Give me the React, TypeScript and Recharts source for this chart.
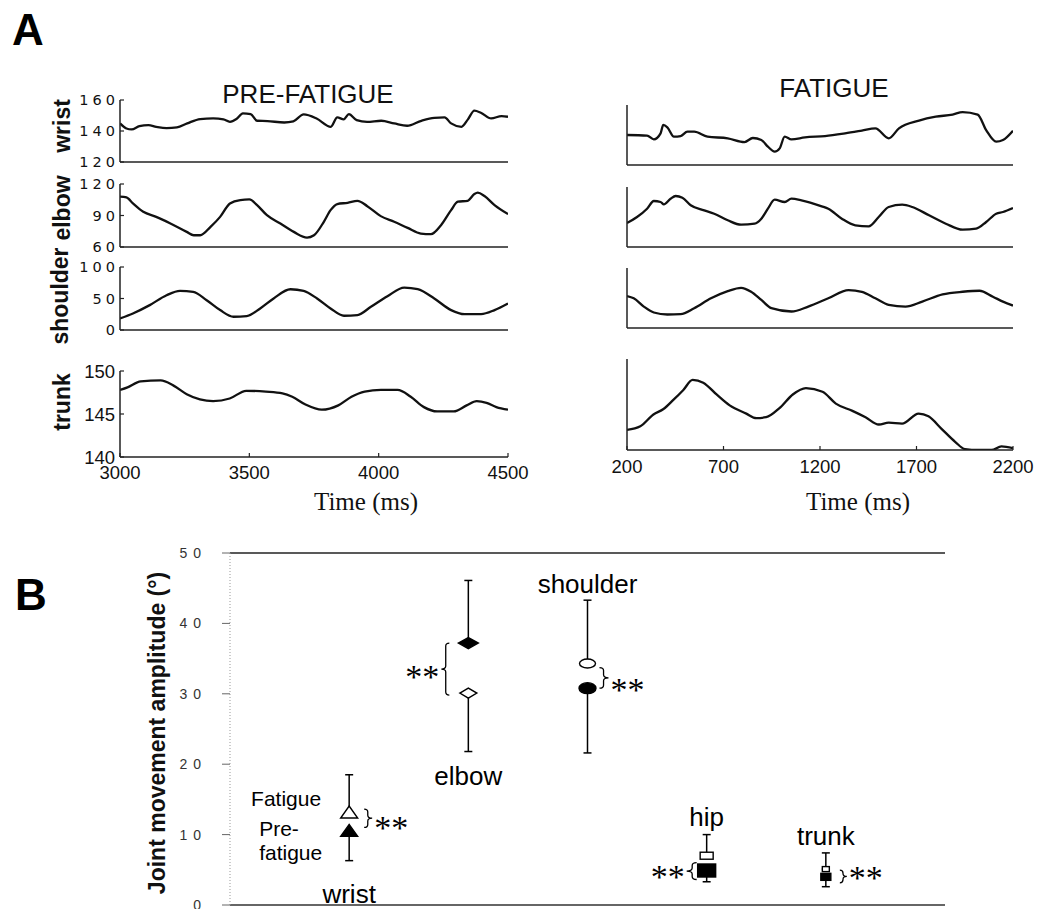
import React from 'react';
import {
  LineChart,
  Line,
  XAxis,
  YAxis,
  ScatterChart,
  Scatter,
  ErrorBar,
  ReferenceArea,
  ReferenceLine,
} from 'recharts';

type Pt = [number, number];

// ---------------- Panel A data (time in ms, joint angle in degrees) ----------------
const preTicksX = [3000, 3500, 4000, 4500];
const fatTicksX = [200, 700, 1200, 1700, 2200];
const wristTicks = [120, 140, 160];
const elbowTicks = [60, 90, 120];
const shoulderTicks = [0, 50, 100];
const trunkTicks = [140, 145, 150];

const preWrist: Pt[] = [
  [3000, 144.9], [3025, 141.6], [3045, 141.0], [3075, 143.1], [3110, 143.8], [3140, 142.7],
  [3180, 141.8], [3220, 142.3], [3260, 144.9], [3310, 147.7], [3360, 148.1], [3400, 147.5],
  [3425, 145.9], [3450, 147.7], [3475, 151.4], [3505, 150.9], [3530, 146.6], [3570, 146.4],
  [3635, 145.5], [3670, 146.2], [3710, 150.7], [3760, 148.1], [3815, 142.7], [3840, 148.8],
  [3865, 147.5], [3885, 150.9], [3915, 147.0], [3955, 145.9], [4010, 146.6], [4060, 144.9],
  [4110, 143.4], [4165, 146.6], [4215, 148.5], [4255, 148.8], [4280, 144.9], [4320, 142.7],
  [4345, 147.5], [4370, 153.1], [4395, 151.8], [4435, 148.1], [4475, 149.6], [4500, 149.2],
];
const preElbow: Pt[] = [
  [3000, 107.9], [3025, 107.2], [3050, 101.5], [3090, 93.5], [3140, 88.7], [3195, 82.4],
  [3258, 74.4], [3285, 71.2], [3310, 71.2], [3350, 79.2], [3387, 88.7], [3425, 101.5],
  [3465, 104.7], [3500, 105.3], [3530, 99.9], [3568, 90.3], [3620, 82.4], [3672, 74.4],
  [3723, 69.0], [3750, 71.2], [3788, 84.0], [3814, 95.1], [3840, 100.9], [3880, 102.1],
  [3918, 104.0], [3956, 98.9], [4008, 89.4], [4060, 84.0], [4112, 78.2], [4163, 72.8],
  [4202, 72.2], [4241, 80.8], [4280, 95.1], [4306, 103.1], [4344, 104.0], [4370, 110.4],
  [4383, 111.7], [4409, 108.5], [4448, 99.9], [4500, 91.3],
];
const preShoulder: Pt[] = [
  [3000, 18.4], [3050, 26.3], [3115, 39.5], [3180, 55.2], [3232, 62.1], [3283, 60.5],
  [3335, 47.3], [3387, 31.6], [3439, 21.0], [3490, 22.1], [3542, 34.2], [3594, 50.0],
  [3659, 64.7], [3710, 62.1], [3762, 50.0], [3814, 34.2], [3866, 22.6], [3918, 23.7],
  [3970, 36.8], [4034, 53.7], [4099, 67.3], [4151, 64.7], [4215, 50.0], [4280, 31.6],
  [4332, 25.2], [4396, 25.2], [4448, 31.6], [4500, 42.1],
];
const preTrunk: Pt[] = [
  [3000, 147.8], [3029, 148.1], [3080, 148.8], [3157, 148.9], [3207, 148.3], [3258, 147.3],
  [3309, 146.7], [3360, 146.5], [3424, 146.8], [3488, 147.7], [3564, 147.6], [3628, 147.4],
  [3666, 147.0], [3717, 146.1], [3780, 145.5], [3844, 146.0], [3895, 147.0], [3946, 147.6],
  [4009, 147.8], [4073, 147.8], [4124, 147.0], [4175, 145.8], [4226, 145.3], [4290, 145.3],
  [4340, 146.0], [4379, 146.5], [4417, 146.3], [4455, 145.8], [4500, 145.5],
];

const fatWrist: Pt[] = [
  [200, 140.0], [304, 139.6], [339, 137.1], [374, 141.1], [388, 146.7], [409, 145.1],
  [443, 138.9], [478, 139.3], [513, 142.2], [548, 142.2], [617, 138.9], [722, 137.8],
  [809, 135.3], [852, 138.0], [896, 136.7], [930, 132.2], [965, 128.9], [991, 131.1],
  [1017, 138.9], [1052, 137.1], [1122, 138.4], [1226, 139.3], [1330, 141.1], [1417, 142.9],
  [1487, 144.4], [1556, 137.8], [1609, 144.4], [1713, 149.6], [1800, 152.2], [1887, 153.6],
  [1939, 155.3], [2017, 153.6], [2061, 143.3], [2113, 135.6], [2148, 136.7], [2200, 142.9],
];
const fatElbow: Pt[] = [
  [200, 84.0], [252, 90.0], [304, 98.3], [339, 106.0], [374, 105.0], [391, 102.7],
  [426, 108.3], [452, 111.0], [487, 109.3], [530, 101.7], [600, 96.7], [652, 93.3],
  [722, 86.7], [791, 82.3], [861, 83.3], [896, 88.3], [930, 98.3], [965, 107.3],
  [1017, 105.0], [1052, 108.3], [1104, 106.7], [1209, 100.7], [1243, 98.3], [1313, 88.3],
  [1383, 81.7], [1452, 80.7], [1504, 90.0], [1556, 100.0], [1626, 102.3], [1678, 100.0],
  [1765, 91.7], [1852, 83.3], [1939, 77.3], [2009, 78.3], [2061, 85.0], [2113, 93.3],
  [2148, 95.0], [2200, 99.0],
];
const fatShoulder: Pt[] = [
  [200, 53.3], [235, 49.5], [287, 35.7], [339, 25.8], [409, 22.5], [478, 23.1],
  [548, 33.0], [635, 49.5], [722, 61.5], [791, 67.0], [843, 60.4], [896, 46.7],
  [948, 33.0], [1052, 27.5], [1139, 35.7], [1243, 49.5], [1348, 63.2], [1417, 60.4],
  [1487, 49.5], [1556, 38.5], [1643, 35.7], [1730, 44.0], [1835, 56.0], [1939, 60.4],
  [2026, 62.1], [2096, 52.2], [2148, 44.0], [2200, 37.4],
];
const fatTrunk: Pt[] = [
  [200, 142.2], [269, 142.6], [337, 143.9], [389, 144.5], [440, 145.5], [492, 146.6],
  [540, 147.7], [595, 147.4], [664, 146.1], [732, 144.9], [818, 144.0], [870, 143.5],
  [921, 143.6], [990, 144.6], [1059, 146.1], [1127, 146.8], [1213, 146.4], [1282, 145.1],
  [1368, 144.3], [1436, 143.6], [1505, 142.8], [1556, 143.0], [1625, 142.9], [1711, 144.0],
  [1762, 143.7], [1831, 142.3], [1900, 140.9], [1951, 140.1], [2020, 140.0], [2089, 140.0],
  [2140, 140.4], [2200, 140.2],
];

// ---------------- Panel B data (joint movement amplitude, degrees) ----------------
const joints = ['wrist', 'elbow', 'shoulder', 'hip', 'trunk'];
const preFatigue = [10.6, 37.2, 30.8, 4.9, 4.0];
const fatigue = [13.2, 30.1, 34.3, 7.0, 5.1];
const preFatigueSD = [4.3, 8.9, 9.2, 1.6, 1.4];
const fatigueSD = [5.3, 8.3, 9.0, 3.0, 2.3];
const ampTicks = [0, 10, 20, 30, 40, 50];

// ---------------- styles ----------------
const SANS = '"Liberation Sans", Arial, sans-serif';
const SERIF = '"Liberation Serif", "Times New Roman", serif';
const INK = '#111';

interface PanelProps {
  data: Pt[];
  domainX: [number, number];
  ticksX: number[];
  domainY: [number, number];
  ticksY: number[];
  chartLeft: number;
  plotX: number;
  plotY: number;
  plotW: number;
  plotH: number;
  rightM: number;
  xLabels?: boolean;
  yLabels?: 'small' | 'large' | 'none';
  xTickMargin?: number;
}

function TracePanel(p: PanelProps) {
  const M = 10;
  const yw = p.plotX - p.chartLeft - M;
  const xh = p.xLabels ? 40 : 2;
  const width = M + yw + p.plotW + p.rightM;
  const height = M + p.plotH + xh + M;
  const rows = p.data.map(([t, v]) => ({ t, v }));
  const yTick =
    p.yLabels === 'small'
      ? { fill: INK, fontSize: 14.5, fontFamily: '"DejaVu Sans", sans-serif', style: { letterSpacing: '4px' } }
      : p.yLabels === 'large'
      ? { fill: INK, fontSize: 18.5, fontFamily: SANS }
      : false;
  return (
    <div style={{ position: 'absolute', left: p.chartLeft, top: p.plotY - M, width, height }}>
      <LineChart width={width} height={height} data={rows} margin={{ top: M, right: p.rightM, bottom: M, left: M }}>
        <XAxis
          dataKey="t"
          type="number"
          domain={p.domainX}
          ticks={p.ticksX}
          allowDataOverflow
          interval={0}
          height={xh}
          axisLine={{ stroke: '#222', strokeWidth: 1.5 }}
          tickLine={{ stroke: '#222', strokeWidth: 1.2 }}
          tickSize={-4}
          tickMargin={p.xTickMargin ?? 13}
          tick={p.xLabels ? { fill: INK, fontSize: 18.5, fontFamily: SANS } : false}
        />
        <YAxis
          type="number"
          domain={p.domainY}
          ticks={p.ticksY}
          allowDataOverflow
          interval={0}
          width={yw}
          axisLine={{ stroke: '#222', strokeWidth: 1.5 }}
          tickLine={{ stroke: '#222', strokeWidth: 1.2 }}
          tickSize={-4}
          tickMargin={p.yLabels === 'small' ? 5 : 9}
          tick={yTick as any}
        />
        <Line
          type="monotone"
          dataKey="v"
          stroke={INK}
          strokeWidth={2.3}
          dot={false}
          isAnimationActive={false}
        />
      </LineChart>
    </div>
  );
}

// ---------------- Panel B helpers ----------------
function JointMarker(props: any, filled: boolean) {
  const { cx, cy, payload } = props;
  if (cx == null || cy == null) return <g />;
  const common = { fill: filled ? '#000' : '#fff', stroke: '#000', strokeWidth: 1.4 };
  switch (payload.joint) {
    case 'wrist': {
      const w = 8.5;
      const h = 6;
      return <polygon points={`${cx - w},${cy + h} ${cx + w},${cy + h} ${cx},${cy - h}`} {...common} />;
    }
    case 'elbow': {
      const w = filled ? 10 : 8.5;
      const h = filled ? 5.5 : 5;
      return <polygon points={`${cx - w},${cy} ${cx},${cy - h} ${cx + w},${cy} ${cx},${cy + h}`} {...common} />;
    }
    case 'shoulder':
      return <ellipse cx={cx} cy={cy} rx={filled ? 8.5 : 8} ry={filled ? 5.5 : 4.5} {...common} />;
    case 'hip': {
      const w = filled ? 9 : 6.5;
      const h = filled ? 6.5 : 3.5;
      return <rect x={cx - w} y={cy - h} width={2 * w} height={2 * h} {...common} />;
    }
    default: {
      const w = filled ? 5 : 3.5;
      const h = filled ? 3.5 : 2.5;
      return <rect x={cx - w} y={cy - h} width={2 * w} height={2 * h} {...common} />;
    }
  }
}

const ANNOT: Record<
  string,
  { side: number; inner: number; depth: number; top: number; bot: number; star: number; label: 'above' | 'below'; labelDy: number }
> = {
  wrist: { side: 1, inner: 15, depth: 8, top: -3, bot: -3, star: 2, label: 'below', labelDy: 42 },
  elbow: { side: -1, inner: 19, depth: 8, top: 0, bot: 2, star: 4, label: 'below', labelDy: 33 },
  shoulder: { side: 1, inner: 12, depth: 9, top: 4, bot: 0, star: 9, label: 'above', labelDy: 7 },
  hip: { side: -1, inner: 10, depth: 10, top: 7, bot: 9, star: 9, label: 'above', labelDy: 9 },
  trunk: { side: 1, inner: 14, depth: 7, top: 1, bot: 6, star: 0, label: 'above', labelDy: 8 },
};

function bracePath(x0: number, y0: number, y1: number, s: number, d: number) {
  const m = (y0 + y1) / 2;
  const r = Math.min(3, (y1 - y0) / 4);
  const xa = x0 + s * d * 0.45;
  const xt = x0 + s * d;
  return `M${x0},${y0} Q${xa},${y0} ${xa},${y0 + r} L${xa},${m - r} Q${xa},${m} ${xt},${m} Q${xa},${m} ${xa},${m + r} L${xa},${y1 - r} Q${xa},${y1} ${x0},${y1}`;
}

function BraceShape(props: any, joint: string) {
  const { x, y, height } = props;
  if (x == null || y == null) return <g />;
  const a = ANNOT[joint];
  const y0 = y + a.top;
  const y1 = y + height + a.bot;
  const x0 = x + a.side * a.inner;
  const tip = x0 + a.side * a.depth;
  const starC = y + height / 2 + a.star;
  return (
    <g>
      <path d={bracePath(x0, y0, y1, a.side, a.depth)} fill="none" stroke="#000" strokeWidth={1.3} />
      <text
        x={a.side > 0 ? tip + 2 : tip - 2}
        y={starC + 16}
        textAnchor={a.side > 0 ? 'start' : 'end'}
        fontFamily={SERIF}
        fontSize={34}
        fill="#000"
      >
        **
      </text>
      {joint === 'wrist' && (
        <g fontFamily={SANS} fontSize={21} fill="#000">
          <text x={x - 28} y={y - 6} textAnchor="end">Fatigue</text>
          <text x={x - 90} y={y + height + 6}>Pre-</text>
          <text x={x - 90} y={y + height + 30}>fatigue</text>
        </g>
      )}
    </g>
  );
}

function JointLabelShape(props: any, joint: string) {
  const { x, y, height } = props;
  if (x == null || y == null) return <g />;
  const a = ANNOT[joint];
  const ty = a.label === 'above' ? y - a.labelDy : y + height + a.labelDy;
  return (
    <text x={x} y={ty} textAnchor="middle" fontFamily={SANS} fontSize={26} fill="#000">
      {joint}
    </text>
  );
}

function AmplitudeChart() {
  const preRows = joints.map((joint, i) => ({
    x: i + 1,
    y: preFatigue[i],
    joint,
    err: preFatigue[i] >= fatigue[i] ? [0, preFatigueSD[i]] : [preFatigueSD[i], 0],
  }));
  const fatRows = joints.map((joint, i) => ({
    x: i + 1,
    y: fatigue[i],
    joint,
    err: fatigue[i] > preFatigue[i] ? [0, fatigueSD[i]] : [fatigueSD[i], 0],
  }));
  const W = 1040;
  const H = 369;
  return (
    <div style={{ position: 'absolute', left: 0, top: 540, width: W, height: H }}>
      <ScatterChart width={W} height={H} margin={{ top: 13, right: 95, bottom: 3, left: 170 }}>
        <XAxis
          dataKey="x"
          type="number"
          domain={[0, 6]}
          allowDataOverflow
          height={1}
          tick={false}
          tickLine={false}
          axisLine={{ stroke: '#333', strokeWidth: 1.5 }}
        />
        <YAxis
          dataKey="y"
          type="number"
          domain={[0, 50]}
          ticks={ampTicks}
          allowDataOverflow
          interval={0}
          width={60}
          axisLine={{ stroke: '#999', strokeDasharray: '1 2' }}
          tickLine={{ stroke: '#666' }}
          tickSize={8}
          tickMargin={20}
          tickFormatter={(v: number) => String(v).split('').join(' ')}
          tick={{ fill: '#333', fontSize: 14, fontFamily: SANS, style: { letterSpacing: '1px' } } as any}
        />
        <ReferenceLine y={50} stroke="#222" strokeWidth={1.5} />
        {joints.map((joint, i) => (
          <ReferenceArea
            key={`brace-${joint}`}
            x1={i + 1}
            x2={i + 1}
            y1={Math.min(preFatigue[i], fatigue[i])}
            y2={Math.max(preFatigue[i], fatigue[i])}
            ifOverflow="visible"
            shape={(p: any) => BraceShape(p, joint)}
          />
        ))}
        {joints.map((joint, i) => {
          const hiIsPre = preFatigue[i] >= fatigue[i];
          const top = hiIsPre ? preFatigue[i] + preFatigueSD[i] : fatigue[i] + fatigueSD[i];
          const bottom = hiIsPre ? fatigue[i] - fatigueSD[i] : preFatigue[i] - preFatigueSD[i];
          return (
            <ReferenceArea
              key={`label-${joint}`}
              x1={i + 1}
              x2={i + 1}
              y1={bottom}
              y2={top}
              ifOverflow="visible"
              shape={(p: any) => JointLabelShape(p, joint)}
            />
          );
        })}
        <Scatter
          name="Pre-fatigue"
          data={preRows}
          isAnimationActive={false}
          shape={(p: any) => JointMarker(p, true)}
        >
          <ErrorBar dataKey="err" direction="y" width={4} stroke="#000" strokeWidth={1.5} />
        </Scatter>
        <Scatter
          name="Fatigue"
          data={fatRows}
          isAnimationActive={false}
          shape={(p: any) => JointMarker(p, false)}
        >
          <ErrorBar dataKey="err" direction="y" width={4} stroke="#000" strokeWidth={1.5} />
        </Scatter>
      </ScatterChart>
    </div>
  );
}

function Overlay() {
  const rot = (x: number, y: number) => `translate(${x},${y}) rotate(-90)`;
  return (
    <svg width={1040} height={909} style={{ position: 'absolute', left: 0, top: 0, pointerEvents: 'none' }}>
      <text x={12} y={45} fontFamily={SANS} fontWeight="bold" fontSize={44} fill="#000">A</text>
      <text x={15} y={610} fontFamily={SANS} fontWeight="bold" fontSize={44} fill="#000">B</text>
      <text x={308} y={103} textAnchor="middle" fontFamily={SANS} fontSize={26} fill={INK}>PRE-FATIGUE</text>
      <text x={834} y={97} textAnchor="middle" fontFamily={SANS} fontSize={26} fill={INK}>FATIGUE</text>
      <g fontFamily={SANS} fontWeight="bold" fontSize={23} fill={INK} textAnchor="middle" dominantBaseline="central">
        <text transform={rot(62, 126)}>wrist</text>
        <text transform={rot(62, 208)}>elbow</text>
        <text transform={rot(60, 296)}>shoulder</text>
        <text transform={rot(62, 402)}>trunk</text>
        <text transform={rot(157, 733)}>Joint movement amplitude (°)</text>
      </g>
      <text x={366} y={510} textAnchor="middle" fontFamily={SERIF} fontSize={25} fill={INK}>Time (ms)</text>
      <text x={858} y={510} textAnchor="middle" fontFamily={SERIF} fontSize={25} fill={INK}>Time (ms)</text>
    </svg>
  );
}

export default function App() {
  const L = { chartLeft: 0, plotX: 120, plotW: 388, rightM: 30, domainX: [3000, 4500] as [number, number], ticksX: preTicksX };
  const R = { chartLeft: 560, plotX: 627, plotW: 386, rightM: 27, domainX: [200, 2200] as [number, number], ticksX: fatTicksX };
  return (
    <div style={{ position: 'absolute', left: 0, top: 0, width: 1040, height: 909, background: '#fff', overflow: 'hidden' }}>
      <TracePanel {...L} data={preWrist} domainY={[120, 160]} ticksY={wristTicks} plotY={100} plotH={62} yLabels="small" />
      <TracePanel {...L} data={preElbow} domainY={[60, 120]} ticksY={elbowTicks} plotY={184} plotH={63} yLabels="small" />
      <TracePanel {...L} data={preShoulder} domainY={[0, 100]} ticksY={shoulderTicks} plotY={267} plotH={63} yLabels="small" />
      <TracePanel {...L} data={preTrunk} domainY={[140, 150]} ticksY={trunkTicks} plotY={371} plotH={86} yLabels="large" xLabels xTickMargin={13} />
      <TracePanel {...R} data={fatWrist} domainY={[120, 160]} ticksY={wristTicks} plotY={105} plotH={60} yLabels="none" />
      <TracePanel {...R} data={fatElbow} domainY={[60, 120]} ticksY={elbowTicks} plotY={187} plotH={60} yLabels="none" />
      <TracePanel {...R} data={fatShoulder} domainY={[0, 100]} ticksY={shoulderTicks} plotY={268} plotH={60} yLabels="none" />
      <TracePanel {...R} data={fatTrunk} domainY={[140, 150]} ticksY={trunkTicks} plotY={359} plotH={91} yLabels="none" xLabels xTickMargin={14} />
      <AmplitudeChart />
      <Overlay />
    </div>
  );
}
